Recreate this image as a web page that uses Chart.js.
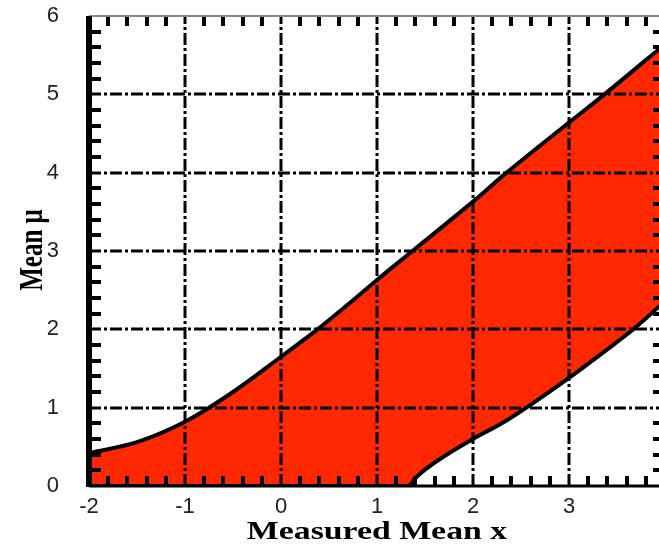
<!DOCTYPE html>
<html>
<head>
<meta charset="utf-8">
<script src="https://cdn.jsdelivr.net/npm/chart.js@4/dist/chart.umd.min.js"></script>
<style>
  html, body { margin: 0; padding: 0; background: #fff; overflow: hidden; }
  #wrap { position: absolute; left: 0; top: 0; }
</style>
</head>
<body>
<div id="wrap"><canvas id="beltChart" width="675" height="544"></canvas></div>
<script>
'use strict';

// confidence belt
const upperX = [-2, -1.5, -1, -0.5, 0, 0.38, 0.69, 1, 1.37, 2, 2.35, 3, 3.37, 4];
const upperY = [0.42, 0.56, 0.82, 1.2, 1.65, 2.0, 2.31, 2.63, 3.0, 3.63, 4.0, 4.64, 5.0, 5.64];
const lowerX = [-2, 1.32, 1.4, 1.5, 1.7, 2, 2.3, 2.58, 3, 3.35, 3.67, 4];
const lowerY = [0, 0, 0.1, 0.21, 0.38, 0.6, 0.8, 1.02, 1.38, 1.7, 2.0, 2.36];
const xTicks = [-2, -1, 0, 1, 2, 3, 4];
const yTicks = [0, 1, 2, 3, 4, 5, 6];
const xTitle = 'Measured Mean x';
const yTitle = 'Mean \u03bc';

const beltRed = '#ff2800';

function toPoints(xs, ys) {
  let pts = [];
  for (let i = 0; i < xs.length; i++) {
    pts.push({x: xs[i], y: ys[i]});
  }
  return pts;
}

// grid, minor ticks, frame and titles drawn on top of the fill
const framePlugin = {
  id: 'frame',
  afterDatasetsDraw(chart) {
    const ctx = chart.ctx;
    const xs = chart.scales.x;
    const ys = chart.scales.y;
    const area = chart.chartArea;
    ctx.save();

    // dash-dot grid
    ctx.strokeStyle = '#000';
    ctx.lineWidth = 3;
    ctx.setLineDash([12, 3, 3, 3]);
    for (let i = 1; i < xTicks.length - 1; i++) {
      const px = Math.round(xs.getPixelForValue(xTicks[i]));
      ctx.beginPath();
      ctx.moveTo(px, area.bottom);
      ctx.lineTo(px, area.top);
      ctx.stroke();
    }
    for (let i = 1; i < yTicks.length - 1; i++) {
      const py = Math.round(ys.getPixelForValue(yTicks[i]));
      ctx.beginPath();
      ctx.moveTo(area.left, py);
      ctx.lineTo(area.right, py);
      ctx.stroke();
    }
    ctx.setLineDash([]);

    // minor ticks pointing inward
    ctx.lineWidth = 4;
    for (let i = 0; i < xTicks.length - 1; i++) {
      for (let k = 1; k < 5; k++) {
        const px = Math.round(xs.getPixelForValue(xTicks[i] + k * 0.2));
        ctx.beginPath();
        ctx.moveTo(px, area.bottom);
        ctx.lineTo(px, area.bottom - 10);
        ctx.moveTo(px, area.top);
        ctx.lineTo(px, area.top + 10);
        ctx.stroke();
      }
    }
    for (let i = 0; i < yTicks.length - 1; i++) {
      for (let k = 1; k < 5; k++) {
        const py = Math.round(ys.getPixelForValue(yTicks[i] + k * 0.2));
        ctx.beginPath();
        ctx.moveTo(area.left, py);
        ctx.lineTo(area.left + 12, py);
        ctx.moveTo(area.right, py);
        ctx.lineTo(area.right - 12, py);
        ctx.stroke();
      }
    }

    // frame
    ctx.strokeStyle = '#888';
    ctx.lineWidth = 2;
    ctx.beginPath();
    ctx.moveTo(area.left, area.top);
    ctx.lineTo(area.right, area.top);
    ctx.stroke();
    ctx.strokeStyle = '#000';
    ctx.lineWidth = 3;
    ctx.beginPath();
    ctx.moveTo(area.left, area.bottom);
    ctx.lineTo(area.right, area.bottom);
    ctx.moveTo(area.right, area.bottom);
    ctx.lineTo(area.right, area.top);
    ctx.stroke();
    ctx.lineWidth = 6;
    ctx.beginPath();
    ctx.moveTo(area.left, area.bottom + 1);
    ctx.lineTo(area.left, area.top);
    ctx.stroke();

    // axis titles, stretched wide like the original
    ctx.fillStyle = '#000';
    ctx.font = 'bold 26px "Liberation Serif", "Times New Roman", serif';
    ctx.textAlign = 'center';
    ctx.textBaseline = 'alphabetic';
    ctx.save();
    ctx.translate((area.left + area.right) / 2, 539);
    ctx.scale(1.3, 1);
    ctx.fillText(xTitle, 0, 0);
    ctx.restore();

    ctx.save();
    ctx.font = 'bold 25px "Liberation Serif", "Times New Roman", serif';
    ctx.translate(42, 250);
    ctx.rotate(-Math.PI / 2);
    ctx.scale(1, 1.35);
    ctx.fillText(yTitle, 0, 0);
    ctx.restore();

    ctx.restore();
  }
};

const ctx = document.getElementById('beltChart').getContext('2d');

const chartObj = {
  type: 'line',
  data: {
    datasets: [{
      label: 'upper',
      data: toPoints(upperX, upperY),
      borderColor: '#000',
      borderWidth: 4,
      backgroundColor: beltRed,
      pointRadius: 0,
      tension: 0.35,
      fill: '+1'
    }, {
      label: 'lower',
      data: toPoints(lowerX, lowerY),
      borderColor: '#000',
      borderWidth: 4,
      pointRadius: 0,
      tension: 0.35,
      fill: false
    }]
  },
  options: {
    responsive: false,
    animation: false,
    layout: {
      padding: {left: 0, top: 16, right: 10, bottom: 0}
    },
    plugins: {
      legend: {display: false},
      tooltip: {enabled: false},
      filler: {drawTime: 'beforeDatasetsDraw'}
    },
    scales: {
      x: {
        type: 'linear',
        min: -2,
        max: 4,
        afterBuildTicks(scale) {
          scale.ticks = xTicks.map(v => ({value: v}));
        },
        afterFit(scale) {
          scale.height = 58;
          scale.paddingLeft = 0;
          scale.paddingRight = 0;
        },
        grid: {display: false},
        border: {display: false},
        ticks: {
          color: '#222',
          padding: 0,
          maxRotation: 0,
          autoSkip: false,
          font: {family: '"Liberation Sans", Arial, sans-serif', size: 22}
        }
      },
      y: {
        type: 'linear',
        min: 0,
        max: 6,
        afterBuildTicks(scale) {
          scale.ticks = yTicks.map(v => ({value: v}));
        },
        afterFit(scale) {
          scale.width = 89;
          scale.paddingTop = 0;
          scale.paddingBottom = 0;
        },
        grid: {display: false},
        border: {display: false},
        ticks: {
          color: '#222',
          padding: 22,
          font: {family: '"Liberation Sans", Arial, sans-serif', size: 22}
        }
      }
    }
  },
  plugins: [framePlugin]
};

const beltChart = new Chart(ctx, chartObj);
</script>
</body>
</html>
